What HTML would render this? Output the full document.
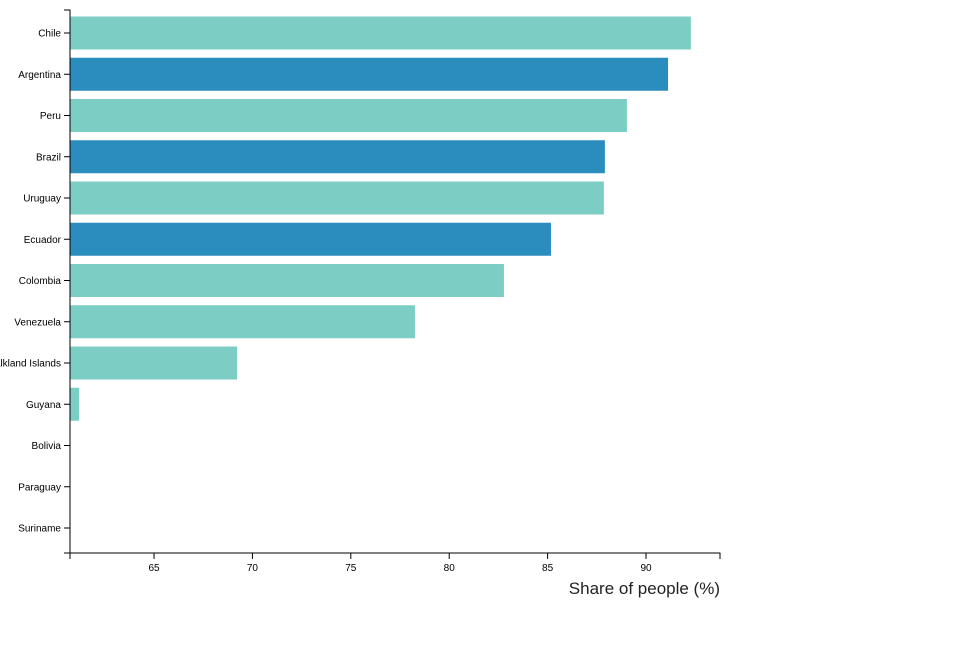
<!DOCTYPE html>
<html><head><meta charset="utf-8"><style>
html,body{margin:0;padding:0;background:#fff;}
svg{display:block;font-family:"Liberation Sans",sans-serif;}
</style></head><body>
<svg id="chart" width="964" height="658"></svg>
<script>
const categories = ["Chile","Argentina","Peru","Brazil","Uruguay","Ecuador","Colombia","Venezuela","Falkland Islands","Guyana","Bolivia","Paraguay","Suriname"];
const values = [92.28,91.12,89.03,87.91,87.86,85.17,82.78,78.26,69.22,61.19,null,null,null];
const highlighted = [false,true,false,true,false,true,false,false,false,false,false,false,false];
const xTicks = [65,70,75,80,85,90];

const NS="http://www.w3.org/2000/svg";
const svg=document.getElementById('chart');
const x0=70,x1=720,dMin=60.73,dMax=93.76;
const xs=v=>x0+(v-dMin)/(dMax-dMin)*(x1-x0);
const step=41.25,firstC=33,bh=33;
const ys=i=>firstC+i*step;
function mk(t,a){const e=document.createElementNS(NS,t);for(const k in a)e.setAttribute(k,a[k]);svg.appendChild(e);return e;}

values.forEach((v,i)=>{
  if(v===null||v<=dMin) return;
  const r=mk('rect',{x:x0,y:ys(i)-bh/2,width:xs(v)-x0,height:bh,fill:highlighted[i]?'#2b8cbe':'#7ccdc4'});
  
  
});

const ya=mk('path',{d:`M64,10H70V553H64`,fill:'none',stroke:'#000'});


categories.forEach((c,i)=>{
  mk('line',{x1:64,x2:70,y1:ys(i),y2:ys(i),stroke:'#000'});
  const t=mk('text',{x:61,y:ys(i)+3.5,'text-anchor':'end','font-size':10,fill:'#000'});
  t.textContent=c;
  
  
});

const xa=mk('path',{d:`M70,559V553H720V559`,fill:'none',stroke:'#000'});


xTicks.forEach(v=>{
  mk('line',{x1:xs(v),x2:xs(v),y1:553,y2:559,stroke:'#000'});
  const t=mk('text',{x:xs(v),y:571,'text-anchor':'middle','font-size':10,fill:'#000'});
  t.textContent=v;
  
  
});
const title=mk('text',{x:720,y:594,'text-anchor':'end','font-size':17,fill:'#222'});
title.textContent='Share of people (%)';


</script>
</body></html>
